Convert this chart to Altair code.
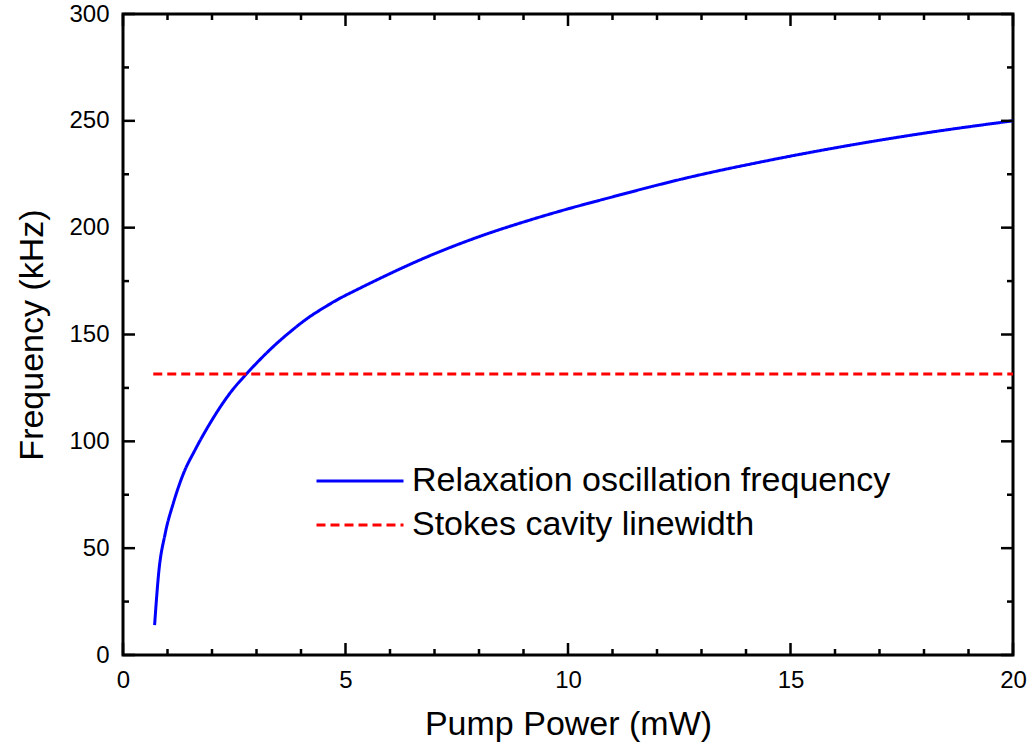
import altair as alt
import pandas as pd

# Relaxation oscillation frequency curve
pump_power = [0.71, 0.80, 0.95, 1.13, 1.36, 1.62, 1.96, 2.41, 2.78, 3.01, 3.39, 3.76,
              4.14, 4.51, 4.88, 5.26, 5.63, 6.01, 6.91, 8.03, 9.15, 10.0, 10.80,
              12.67, 14.54, 16.26, 18.06, 20.0]
rel_freq = [14, 38, 57, 71, 85, 96, 108.6, 122.7, 131.7, 136.8, 144.6, 151.3,
            157.5, 162.5, 167.0, 171.0, 174.8, 178.6, 187.0, 196.0, 203.6, 208.8, 213.3,
            223.3, 231.6, 238.3, 244.4, 250.0]

# Stokes cavity linewidth (constant)
stokes_x = [0.68, 20.0]
stokes_y = [131.5, 131.5]

series_names = ["Relaxation oscillation frequency", "Stokes cavity linewidth"]

x_major = [0, 5, 10, 15, 20]
x_minor = [1, 2, 3, 4, 6, 7, 8, 9, 11, 12, 13, 14, 16, 17, 18, 19]
y_major = [0, 50, 100, 150, 200, 250, 300]
y_minor = [25, 75, 125, 175, 225, 275]

W, H = 890, 641

df = pd.concat([
    pd.DataFrame({"x": pump_power, "y": rel_freq, "s": series_names[0]}),
    pd.DataFrame({"x": stokes_x, "y": stokes_y, "s": series_names[1]}),
])

xs = alt.Scale(domain=[0, 20], nice=False, zero=False)
ys = alt.Scale(domain=[0, 300], nice=False, zero=False)

FONT = "Liberation Sans"

lines = alt.Chart(df).mark_line(strokeWidth=3, clip=True, interpolate="monotone").encode(
    x=alt.X("x:Q", scale=xs, axis=alt.Axis(
        values=x_major, ticks=False, domain=False, grid=False, labelFlush=False,
        labelFontSize=24, labelPadding=13, labelColor="black", labelFont=FONT,
        title="Pump Power (mW)", titleFontSize=34, titleFont=FONT,
        titleFontWeight="normal", titlePadding=15, titleColor="black")),
    y=alt.Y("y:Q", scale=ys, axis=alt.Axis(
        values=y_major, ticks=False, domain=False, grid=False, labelFlush=False,
        labelFontSize=24, labelPadding=14, labelColor="black", labelFont=FONT,
        title="Frequency (kHz)", titleFontSize=34, titleFont=FONT,
        titleFontWeight="normal", titlePadding=19, titleColor="black")),
    color=alt.Color("s:N", scale=alt.Scale(domain=series_names, range=["#0000ff", "#ff0000"]),
                    legend=alt.Legend(
                        title=None, orient="none", legendX=220, legendY=450,
                        symbolType="M-3,0H3", symbolSize=841, symbolStrokeWidth=3,
                        labelFontSize=34, labelFont=FONT, labelColor="black",
                        labelLimit=1000, labelOffset=35, rowPadding=10)),
    strokeDash=alt.StrokeDash("s:N", scale=alt.Scale(domain=series_names, range=[[1, 0], [9, 5]]),
                              legend=None),
    order=alt.Order("x:Q"),
)

tick_col = "black"
tw = 2.5

def xticks(vals, length):
    d = pd.DataFrame({"v": vals})
    b = alt.Chart(d).mark_rule(color=tick_col, strokeWidth=tw).encode(
        x=alt.X("v:Q", scale=xs), y=alt.value(H), y2=alt.value(H - length))
    t = alt.Chart(d).mark_rule(color=tick_col, strokeWidth=tw).encode(
        x=alt.X("v:Q", scale=xs), y=alt.value(0), y2=alt.value(length))
    return [b, t]

def yticks(vals, length):
    d = pd.DataFrame({"v": vals})
    l = alt.Chart(d).mark_rule(color=tick_col, strokeWidth=tw).encode(
        y=alt.Y("v:Q", scale=ys), x=alt.value(0), x2=alt.value(length))
    r = alt.Chart(d).mark_rule(color=tick_col, strokeWidth=tw).encode(
        y=alt.Y("v:Q", scale=ys), x=alt.value(W), x2=alt.value(W - length))
    return [l, r]

layers = [lines] + xticks(x_major, 12) + xticks(x_minor, 6) + yticks(y_major, 12) + yticks(y_minor, 6)

chart = alt.layer(*layers).properties(
    width=W, height=H,
    autosize=alt.AutoSizeParams(type="none"),
    padding={"left": 123, "top": 14, "right": 21, "bottom": 100},
    background="white",
).configure_view(stroke="black", strokeWidth=3)

chart.save("out.html", embed_options={"renderer": "svg", "actions": False})
